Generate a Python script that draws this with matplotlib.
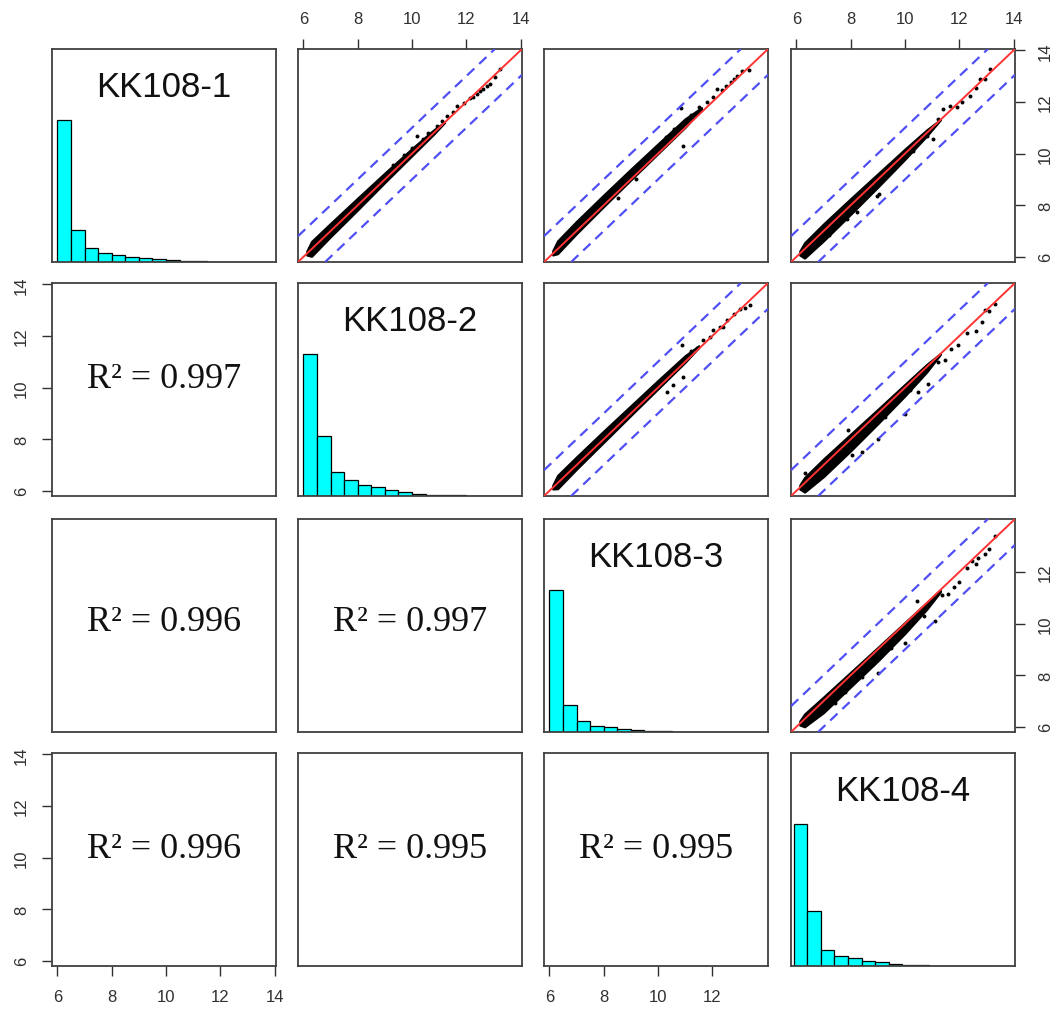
import matplotlib
matplotlib.use("Agg")
import matplotlib.pyplot as plt
import numpy as np

# ---------------- data ----------------
samples = ["KK108-1", "KK108-2", "KK108-3", "KK108-4"]
r2_values = {(1, 0): "0.997", (2, 0): "0.996", (2, 1): "0.997",
             (3, 0): "0.996", (3, 1): "0.995", (3, 2): "0.995"}

ticks_full = [6, 8, 10, 12, 14]
ticks_short = [6, 8, 10, 12]

# histogram (relative heights, bin width 0.5)
hist_start = [6.0, 6.0, 6.0, 5.9]
hist_width = 0.5
hist_heights = [
    [1.0, 0.225, 0.097, 0.063, 0.049, 0.035, 0.026, 0.018, 0.011, 0.007, 0.004, 0.003, 0.002, 0.001, 0.001, 0.0005],
    [1.0, 0.42, 0.17, 0.11, 0.08, 0.06, 0.04, 0.025, 0.015, 0.009, 0.006, 0.004, 0.002, 0.001, 0.001, 0.0005],
    [1.0, 0.19, 0.08, 0.045, 0.033, 0.021, 0.014, 0.009, 0.005, 0.003, 0.002, 0.001, 0.001, 0.0005],
    [1.0, 0.39, 0.113, 0.07, 0.056, 0.035, 0.025, 0.014, 0.008, 0.005, 0.003, 0.002, 0.001, 0.001],
]

# dense core of each scatter: x knots, lower / upper offset (y - x)
band_x = {
    (0, 1): [6.12, 6.3, 7, 8, 9, 10, 10.8, 11.2],
    (0, 2): [6.12, 6.3, 7, 8, 9, 10, 11, 11.6],
    (0, 3): [6.12, 6.3, 7, 8, 9, 10, 10.8, 11.3],
    (1, 2): [6.12, 6.3, 7, 8, 9, 10, 11, 11.5],
    (1, 3): [6.12, 6.3, 7, 8, 9, 10, 10.8, 11.3],
    (2, 3): [6.12, 6.3, 7, 8, 9, 10, 10.8, 11.3],
}
band_lo = {
    (0, 1): [-0.05, -0.28, -0.22, -0.18, -0.12, -0.08, -0.05, 0.0],
    (0, 2): [-0.05, -0.18, -0.1, -0.05, -0.02, 0.0, 0.02, 0.1],
    (0, 3): [-0.05, -0.35, -0.38, -0.35, -0.3, -0.22, -0.12, 0.0],
    (1, 2): [-0.05, -0.22, -0.16, -0.12, -0.08, -0.05, -0.02, 0.05],
    (1, 3): [-0.05, -0.35, -0.45, -0.45, -0.4, -0.32, -0.2, -0.02],
    (2, 3): [-0.05, -0.3, -0.45, -0.45, -0.45, -0.38, -0.25, -0.08],
}
band_hi = {
    (0, 1): [0.1, 0.3, 0.3, 0.28, 0.25, 0.2, 0.12, 0.02],
    (0, 2): [0.12, 0.32, 0.38, 0.4, 0.4, 0.38, 0.35, 0.18],
    (0, 3): [0.1, 0.25, 0.28, 0.26, 0.22, 0.18, 0.12, 0.02],
    (1, 2): [0.1, 0.3, 0.32, 0.32, 0.3, 0.28, 0.24, 0.12],
    (1, 3): [0.1, 0.22, 0.24, 0.2, 0.16, 0.13, 0.1, 0.02],
    (2, 3): [0.1, 0.2, 0.16, 0.12, 0.08, 0.05, 0.02, 0.0],
}
# sparse / outlying points
pts_x = {
    (0, 1): [9.3, 9.7, 10.0, 10.17, 10.4, 10.6, 10.91, 11.1, 11.3, 11.5, 11.65, 11.9, 12.14,
             12.25, 12.38, 12.5, 12.63, 12.75, 12.87, 13.05, 13.24],
    (0, 2): [8.52, 9.2, 10.3, 10.6, 10.85, 10.91, 11.2, 11.5, 11.8, 12.01, 12.19, 12.35, 12.5,
             12.68, 12.8, 12.92, 13.1, 13.35],
    (0, 3): [7.2, 7.85, 8.22, 8.96, 9.05, 9.6, 10.3, 10.8, 11.04, 11.2, 11.41, 11.66, 11.9,
             12.1, 12.39, 12.6, 12.76, 12.95, 13.13],
    (1, 2): [10.32, 10.56, 10.87, 10.93, 11.2, 11.45, 11.67, 11.9, 12.04, 12.28, 12.4, 12.53,
             12.8, 13.02, 13.2, 13.39],
    (1, 3): [6.32, 7.3, 7.91, 8.04, 8.4, 8.89, 9.02, 9.26, 9.7, 10.0, 10.2, 10.49, 10.86, 11.2,
             11.47, 11.7, 11.96, 12.3, 12.6, 12.82, 12.94, 13.1, 13.31],
    (2, 3): [7.1, 7.42, 7.8, 8.4, 9.02, 9.5, 10.0, 10.43, 10.7, 11.1, 11.35, 11.6, 11.8, 12.0,
             12.27, 12.46, 12.6, 12.7, 12.95, 13.1, 13.31],
}
pts_y = {
    (0, 1): [9.55, 9.95, 10.2, 10.69, 10.55, 10.8, 11.08, 11.25, 11.45, 11.6, 11.85, 11.95,
             12.17, 12.2, 12.3, 12.42, 12.5, 12.6, 12.69, 12.95, 13.27],
    (0, 2): [8.27, 9.01, 10.65, 10.95, 11.75, 10.3, 11.5, 11.8, 12.0, 12.18, 12.5, 12.45,
             12.63, 12.76, 12.9, 13.02, 13.2, 13.25],
    (0, 3): [6.85, 7.47, 7.72, 8.37, 8.45, 9.4, 10.1, 10.69, 10.56, 11.35, 11.72, 11.85, 11.8,
             12.0, 12.24, 12.55, 12.89, 12.9, 13.27],
    (1, 2): [9.83, 10.09, 11.64, 10.41, 11.4, 11.55, 11.85, 11.95, 12.22, 12.35, 12.35, 12.6,
             12.85, 13.05, 13.1, 13.19],
    (1, 3): [6.69, 6.95, 8.34, 7.38, 7.5, 8.6, 8.02, 8.86, 9.45, 8.99, 9.9, 9.83, 10.15, 11.0,
             11.06, 11.5, 11.64, 12.1, 12.2, 12.54, 12.99, 12.95, 13.25],
    (2, 3): [6.75, 6.91, 7.35, 7.94, 8.07, 9.05, 9.23, 10.89, 10.3, 10.1, 11.1, 11.13, 11.4,
             11.6, 12.16, 12.42, 12.3, 12.55, 12.68, 12.9, 13.39],
}
fold_offsets = [-1, 1]

# ---------------- layout ----------------
W, H = 1061, 1012
col_left = [52, 298, 544, 791]
row_top = [50, 284, 520, 754]
pw, ph = 224, 213
lims = (5.8, 14.05)

plt.rcParams["font.family"] = ["Liberation Sans", "DejaVu Sans"]
fig = plt.figure(figsize=(W / 100, H / 100), dpi=100)
fig.patch.set_facecolor("white")

tick_kw = dict(direction="out", length=7.5, width=1.0, labelsize=12,
               colors="#303030", pad=9)

axes = {}
for r in range(4):
    for c in range(4):
        ax = fig.add_axes([col_left[c] / W, 1 - (row_top[r] + ph) / H, pw / W, ph / H])
        axes[(r, c)] = ax
        for s in ax.spines.values():
            s.set_color("#404040")
            s.set_linewidth(1.3)
        ax.set_xlim(*lims)
        ax.set_xticks([])
        ax.set_yticks([])
        if r == c:
            ax.set_ylim(0, 1.5)
            h = hist_heights[r]
            left = hist_start[r] + hist_width * np.arange(len(h))
            ax.bar(left, h, width=hist_width, align="edge", color="#00FFFF",
                   edgecolor="black", linewidth=0.9, zorder=2)
            ax.text(0.5, 0.826, samples[r], transform=ax.transAxes, ha="center",
                    va="center", fontsize=25, color="#111111")
        elif c > r:
            ax.set_ylim(*lims)
            bx = np.array(band_x[(r, c)])
            ax.fill_between(bx, bx + np.array(band_lo[(r, c)]), bx + np.array(band_hi[(r, c)]),
                            color="black", linewidth=1.5, edgecolor="black", zorder=2)
            ax.scatter(pts_x[(r, c)], pts_y[(r, c)], s=8, color="black", linewidths=0, zorder=2)
            ax.axline((6, 6), slope=1, color="#FF3333", linewidth=1.4, zorder=3)
            for off in fold_offsets:
                ax.axline((6, 6 + off), slope=1, color="#4F4FF5", linewidth=1.6,
                          linestyle=(0, (4.5, 3.0)), zorder=3)
        else:
            ax.set_ylim(*lims)
            ax.text(0.5, 0.55 if r != 2 else 0.52, "R² = " + r2_values[(r, c)],
                    transform=ax.transAxes, ha="center", va="center", fontsize=26,
                    family=["Liberation Serif", "DejaVu Serif"], color="#111111")

# axes ticks in R pairs style
for c in (1, 3):
    ax = axes[(0, c)]
    ax.xaxis.set_ticks_position("top")
    ax.set_xticks(ticks_full)
    ax.set_xticklabels([str(t) for t in ticks_full])
    ax.tick_params(axis="x", **tick_kw)
for c, tk in ((0, ticks_full), (2, ticks_short)):
    ax = axes[(3, c)]
    ax.xaxis.set_ticks_position("bottom")
    ax.set_xticks(tk)
    ax.set_xticklabels([str(t) for t in tk])
    ax.tick_params(axis="x", **tick_kw)
for r in (1, 3):
    ax = axes[(r, 0)]
    ax.yaxis.set_ticks_position("left")
    ax.set_yticks(ticks_full)
    ax.set_yticklabels([str(t) for t in ticks_full], rotation=90, va="center")
    ax.tick_params(axis="y", **tick_kw)
for r, tk in ((0, ticks_full), (2, ticks_short)):
    ax = axes[(r, 3)]
    ax.yaxis.set_ticks_position("right")
    ax.set_yticks(tk)
    ax.set_yticklabels([str(t) for t in tk], rotation=90, va="center")
    ax.tick_params(axis="y", **tick_kw)

fig.savefig("out.png", dpi=100, facecolor="white")
